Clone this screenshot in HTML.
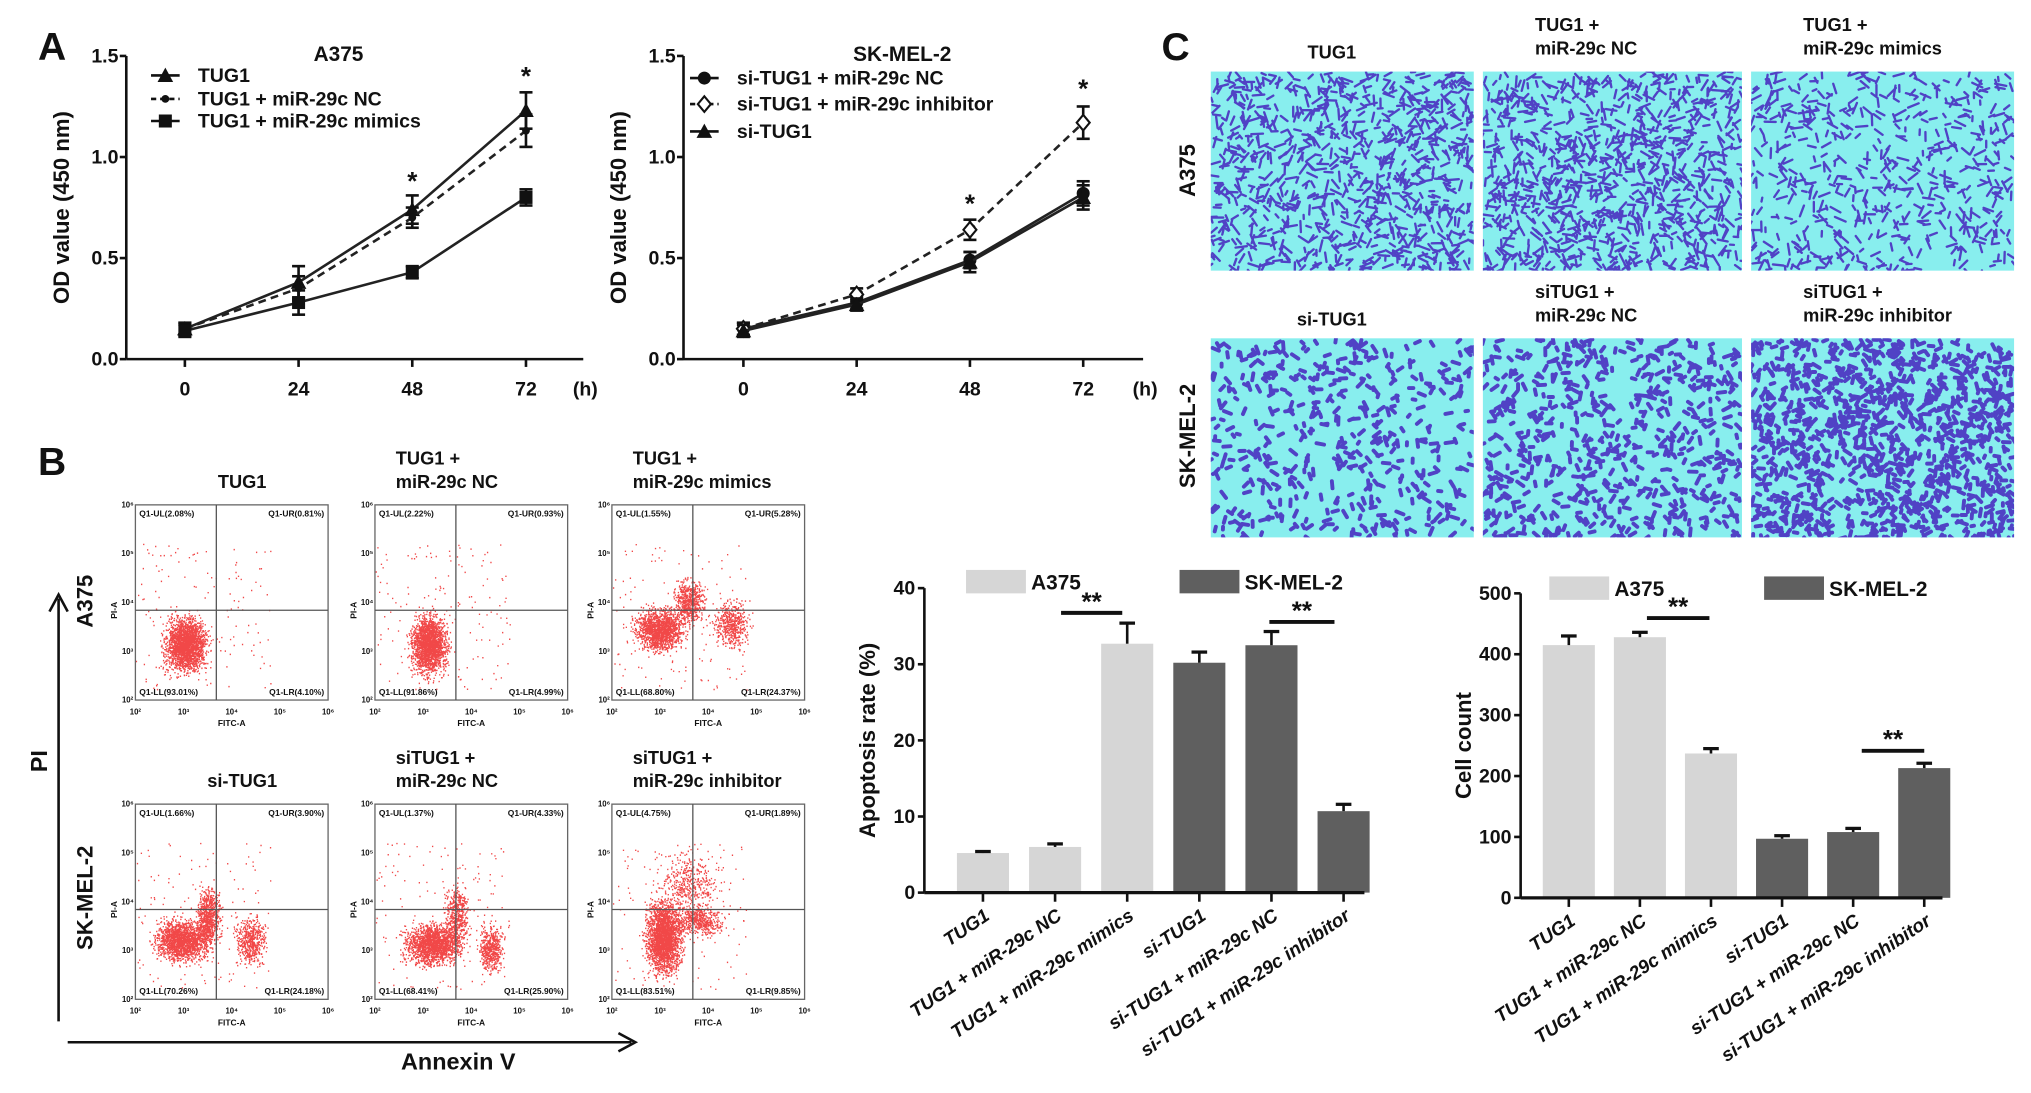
<!DOCTYPE html>
<html><head><meta charset="utf-8"><style>
html,body{margin:0;padding:0;background:#fff}
svg{display:block}
text{font-family:"Liberation Sans",Arial,sans-serif;font-weight:bold;fill:#111}
</style></head><body>
<svg id="fig" width="2031" height="1093" viewBox="0 0 1560 840" preserveAspectRatio="none" xmlns="http://www.w3.org/2000/svg">
<rect width="1560" height="840" fill="#fff"/>
<g id="root"></g>
</svg>
<script>
// ---------- Data ----------
const timeLabels = ["0","24","48","72"];
const timeVals = [0,24,48,72];
const odTicks = [0,0.5,1.0,1.5];
const a375Tug1 = [0.15,0.38,0.74,1.23];
const a375Tug1Err = [0.03,0.08,0.07,0.09];
const a375NC = [0.15,0.35,0.70,1.13];
const a375NCErr = [0.03,0.06,0.05,0.08];
const a375Mimics = [0.14,0.28,0.43,0.80];
const a375MimicsErr = [0.03,0.06,0.03,0.04];
const skNC = [0.15,0.28,0.49,0.82];
const skNCErr = [0.03,0.03,0.04,0.06];
const skInhib = [0.15,0.32,0.64,1.17];
const skInhibErr = [0.03,0.03,0.05,0.08];
const skSi = [0.14,0.27,0.48,0.80];
const skSiErr = [0.03,0.03,0.05,0.06];
const barCats = ["TUG1","TUG1 + miR-29c NC","TUG1 + miR-29c mimics","si-TUG1","si-TUG1 + miR-29c NC","si-TUG1 + miR-29c inhibitor"];
const barGroup = ["A375","A375","A375","SK","SK","SK"];
const apopVals = [5.2,6.0,32.7,30.2,32.5,10.7];
const apopErr = [0.2,0.4,2.7,1.4,1.8,0.9];
const apopTicks = [0,10,20,30,40];
const cellVals = [415,428,237,97,108,213];
const cellErr = [15,8,8,5,6,8];
const cellTicks = [0,100,200,300,400,500];

const NS="http://www.w3.org/2000/svg";
const root=document.getElementById('root');
function mk(tag,attrs,parent,txt){const e=document.createElementNS(NS,tag);for(const k in attrs)e.setAttribute(k,attrs[k]);if(txt!==undefined)e.textContent=txt;(parent||root).appendChild(e);return e;}
function grp(name,parent){const g=mk('g',{},parent);return g;}

[["A",40,46],["B",40,365],["C",903,46]].forEach(([t,x,y])=>{const e=mk('text',{x:x,y:y,'font-size':30,'text-anchor':'middle'},root,t);});

// ---------- Line charts ----------
function lineChart(o){
  const g=grp(o.name);
  const xs=v=>o.x0+ (v/72)*(o.x72-o.x0);
  const ys=v=>o.yb-(v/1.5)*(o.yb-o.yt);
  mk('line',{x1:o.ax,y1:o.yt,x2:o.ax,y2:o.yb,stroke:'#111','stroke-width':2},g);
  mk('line',{x1:o.ax,y1:o.yb,x2:o.axEnd,y2:o.yb,stroke:'#111','stroke-width':2},g);
  odTicks.forEach(t=>{mk('line',{x1:o.ax-5,y1:ys(t),x2:o.ax,y2:ys(t),stroke:'#111','stroke-width':2},g);
    const e=mk('text',{x:o.ax-6,y:ys(t)+5,'font-size':15,'text-anchor':'end'},g,t.toFixed(1));});
  timeVals.forEach((t,i)=>{mk('line',{x1:xs(t),y1:o.yb,x2:xs(t),y2:o.yb+6,stroke:'#111','stroke-width':2},g);
    const e=mk('text',{x:xs(t),y:o.yb+28,'font-size':15,'text-anchor':'middle'},g,timeLabels[i]);});
  let e=mk('text',{x:o.axEnd-8,y:o.yb+28,'font-size':15},g,'(h)');
  e=mk('text',{x:o.titleX,y:47,'font-size':16,'text-anchor':'middle'},g,o.title);
  e=mk('text',{x:0,y:0,'font-size':17,'text-anchor':'middle',transform:`translate(${o.ax-44},${(o.yt+o.yb)/2}) rotate(-90)`,fill:'#222'},g,'OD value (450 nm)');
  o.series.forEach((s,si)=>{
    const sg=grp('series-'+s.key,g);
    const pts=s.vals.map((v,i)=>xs(timeVals[i])+','+ys(v)).join(' ');
    mk('polyline',{points:pts,fill:'none',stroke:'#222','stroke-width':2,'stroke-dasharray':s.dash?'6,4':'none'},sg);
    s.vals.forEach((v,i)=>{const x=xs(timeVals[i]);
      mk('line',{x1:x,y1:ys(v-s.err[i]),x2:x,y2:ys(v+s.err[i]),stroke:'#111','stroke-width':2},sg);
      [v-s.err[i],v+s.err[i]].forEach(w=>mk('line',{x1:x-5,y1:ys(w),x2:x+5,y2:ys(w),stroke:'#111','stroke-width':2},sg));
      marker(s.m,x,ys(v),sg);});
    const ly=o.legY[si];
    mk('line',{x1:o.legX,y1:ly,x2:o.legX+22,y2:ly,stroke:'#111','stroke-width':2,'stroke-dasharray':s.dash?'4,3':'none'},g);
    marker(s.m,o.legX+11,ly,g);
    e=mk('text',{x:o.legX+36,y:ly+5,'font-size':15},g,s.label);
  });
  o.stars.forEach(([t,v])=>{e=mk('text',{x:xs(t),y:ys(v)+10,'font-size':20,'text-anchor':'middle'},g,'*');});
}
function marker(m,x,y,p){
  if(m==='tri')mk('polygon',{points:`${x},${y-6} ${x-6},${y+5} ${x+6},${y+5}`,fill:'#111'},p);
  else if(m==='sq')mk('rect',{x:x-5,y:y-5,width:10,height:10,fill:'#111'},p);
  else if(m==='dot')mk('circle',{cx:x,cy:y,r:3,fill:'#111'},p);
  else if(m==='circ')mk('circle',{cx:x,cy:y,r:5,fill:'#111'},p);
  else if(m==='dia')mk('polygon',{points:`${x},${y-6} ${x+5},${y} ${x},${y+6} ${x-5},${y}`,fill:'#fff',stroke:'#111','stroke-width':1.6},p);
}
lineChart({name:'a375-growth-chart',ax:97,axEnd:448,yt:43,yb:276,x0:142,x72:404,titleX:260,title:'A375',legX:116,legY:[58,76,93],
  series:[{key:'tug1',label:'TUG1',vals:a375Tug1,err:a375Tug1Err,m:'tri'},{key:'nc',label:'TUG1 + miR-29c NC',vals:a375NC,err:a375NCErr,m:'dot',dash:true},{key:'mimics',label:'TUG1 + miR-29c mimics',vals:a375Mimics,err:a375MimicsErr,m:'sq'}],
  stars:[[48,0.9],[72,1.42]]});
lineChart({name:'skmel2-growth-chart',ax:525,axEnd:878,yt:43,yb:276,x0:571,x72:832,titleX:693,title:'SK-MEL-2',legX:530,legY:[60,80,101],
  series:[{key:'nc',label:'si-TUG1 + miR-29c NC',vals:skNC,err:skNCErr,m:'circ'},{key:'inhib',label:'si-TUG1 + miR-29c inhibitor',vals:skInhib,err:skInhibErr,m:'dia',dash:true},{key:'si',label:'si-TUG1',vals:skSi,err:skSiErr,m:'tri'}],
  stars:[[48,0.79],[72,1.36]]});

// ---------- Bar charts ----------
function barChart(o){
  const g=grp(o.name);
  const ys=v=>o.yb-(v/o.max)*(o.yb-o.yt);
  mk('line',{x1:o.ax,y1:o.yt,x2:o.ax,y2:o.yb,stroke:'#111','stroke-width':2},g);
  o.ticks.forEach(t=>{mk('line',{x1:o.ax-5,y1:ys(t),x2:o.ax,y2:ys(t),stroke:'#111','stroke-width':2},g);
    const e=mk('text',{x:o.ax-7,y:ys(t)+5,'font-size':15,'text-anchor':'end'},g,String(t));});
  const bw=40;
  o.vals.forEach((v,i)=>{const cx=o.c0+i*o.step;const col=barGroup[i]==='A375'?'#d6d6d6':'#5f5f5f';
    const b=mk('rect',{x:cx-bw/2,y:ys(v),width:bw,height:o.yb-ys(v),fill:col},g);
    mk('line',{x1:cx,y1:ys(v),x2:cx,y2:ys(v+o.err[i]),stroke:'#111','stroke-width':2},g);
    mk('line',{x1:cx-6,y1:ys(v+o.err[i]),x2:cx+6,y2:ys(v+o.err[i]),stroke:'#111','stroke-width':2.5},g);
    mk('line',{x1:cx,y1:o.yb,x2:cx,y2:o.yb+7,stroke:'#111','stroke-width':2},g);
    const e=mk('text',{x:0,y:0,'font-size':14.5,'font-style':'italic','text-anchor':'end',transform:`translate(${cx+6},${o.yb+20}) rotate(-34)`},g,barCats[i]);
  });
  mk('line',{x1:o.ax,y1:o.yb,x2:o.axEnd,y2:o.yb,stroke:'#111','stroke-width':2.5},g);
  let e=mk('text',{x:0,y:0,'font-size':17,'text-anchor':'middle',transform:`translate(${o.ax-38},${(o.yt+o.yb)/2}) rotate(-90)`,fill:'#222'},g,o.ytitle);
  mk('rect',{x:o.leg[0],y:o.legY,width:46,height:18,fill:'#d6d6d6'},g);
  e=mk('text',{x:o.leg[0]+50,y:o.legY+15,'font-size':16},g,'A375');
  mk('rect',{x:o.leg[1],y:o.legY,width:46,height:18,fill:'#5f5f5f'},g);
  e=mk('text',{x:o.leg[1]+50,y:o.legY+15,'font-size':16},g,'SK-MEL-2');
  o.sig.forEach(([a,b,y])=>{mk('line',{x1:a,y1:y,x2:b,y2:y,stroke:'#111','stroke-width':3},g);
    e=mk('text',{x:(a+b)/2,y:y-2,'font-size':20,'text-anchor':'middle'},g,'**');});
}
barChart({name:'apoptosis-bar-chart',ax:710,axEnd:1048,yt:452,yb:686,max:40,ticks:apopTicks,vals:apopVals,err:apopErr,c0:755,step:55.4,ytitle:'Apoptosis rate (%)',leg:[742,906],legY:438,sig:[[815,862,471],[975,1025,478]]});
barChart({name:'cell-count-bar-chart',ax:1168,axEnd:1492,yt:456,yb:690,max:500,ticks:cellTicks,vals:cellVals,err:cellErr,c0:1205,step:54.6,ytitle:'Cell count',leg:[1190,1355],legY:443,sig:[[1265,1313,475],[1430,1478,577]]});

// ---------- Panel C: migration images ----------
let seed=7;function rnd(){seed=(seed*16807)%2147483647;return seed/2147483647;}
const cImgX=[930,1139,1345],cImgW=[202,199,202];
const cRowY=[55,260],cH=153;
const cDens=[[900,950,550],[450,600,1100]];
const cLabels=[[["TUG1"],["TUG1 +","miR-29c NC"],["TUG1 +","miR-29c mimics"]],[["si-TUG1"],["siTUG1 +","miR-29c NC"],["siTUG1 +","miR-29c inhibitor"]]];
const pc=grp('panel-c');
for(let r=0;r<2;r++)for(let c=0;c<3;c++){
  const gi=grp('migration-image-r'+(r+1)+'c'+(c+1),pc);
  const x=cImgX[c],y=cRowY[r],w=cImgW[c];
  mk('rect',{x:x,y:y,width:w,height:cH,fill:'#88eeee'},gi);
  const cp=mk('clipPath',{id:'cp'+r+c},gi);mk('rect',{x:x,y:y,width:w,height:cH},cp);
  let d='';const n=cDens[r][c];const L=r===0?6:4;
  for(let k=0;k<n;k++){const px=x+rnd()*w,py=y+rnd()*cH,a=rnd()*Math.PI;const l=L*(0.5+rnd());
    d+=`M${px.toFixed(1)} ${py.toFixed(1)}l${(Math.cos(a)*l).toFixed(1)} ${(Math.sin(a)*l).toFixed(1)}`;}
  mk('path',{d:d,stroke:'#4a2fc0','stroke-width':r===0?1.8:3,'stroke-linecap':'round',fill:'none',opacity:0.9,'clip-path':`url(#cp${r}${c})`},gi);
  const lab=cLabels[r][c];const cx=x+w/2-8;
  lab.forEach((t,i)=>{const yy=lab.length===1?y-10:y-31+i*18;const e=mk('text',{x:lab.length>1?x+40:cx,y:yy,'font-size':14,'text-anchor':lab.length>1?'start':'middle'},pc,t);});
}
[["A375",131],["SK-MEL-2",335]].forEach(([t,cy])=>{const e=mk('text',{x:0,y:0,'font-size':17,'text-anchor':'middle',transform:`translate(918,${cy}) rotate(-90)`},pc,t);});

// ---------- Panel B: flow plots ----------
const pb=grp('panel-b');
const fX=[104,288,470],fW=148,fY=[388,618],fH=150;
const fLabels=[[["TUG1"],["TUG1 +","miR-29c NC"],["TUG1 +","miR-29c mimics"]],[["si-TUG1"],["siTUG1 +","miR-29c NC"],["siTUG1 +","miR-29c inhibitor"]]];
const fQuad=[[["2.08","0.81","93.01","4.10"],["2.22","0.93","91.86","4.99"],["1.55","5.28","68.80","24.37"]],[["1.66","3.90","70.26","24.18"],["1.37","4.33","68.41","25.90"],["4.75","1.89","83.51","9.85"]]];
const clusters=[[[[0.26,0.72,0.07,0.09,2200]],[[0.28,0.72,0.06,0.1,2000]],[[0.25,0.64,0.08,0.07,1500],[0.4,0.5,0.05,0.07,600],[0.62,0.62,0.06,0.08,500]]],
  [[[0.24,0.7,0.09,0.07,1700],[0.38,0.58,0.04,0.1,700],[0.6,0.7,0.05,0.08,500]],[[0.3,0.72,0.09,0.07,1700],[0.42,0.58,0.04,0.1,500],[0.6,0.75,0.04,0.08,500]],[[0.27,0.68,0.06,0.12,2400],[0.45,0.6,0.08,0.05,500],[0.4,0.4,0.1,0.1,400]]]];
function gauss(){return (rnd()+rnd()+rnd()-1.5)*1.4;}
for(let r=0;r<2;r++)for(let c=0;c<3;c++){
  const g=grp('flow-plot-r'+(r+1)+'c'+(c+1),pb);
  const x=fX[c],y=fY[r];
  let d='';
  clusters[r][c].forEach(([mx,my,sx,sy,n])=>{for(let k=0;k<n;k++){const px=x+(mx+gauss()*sx)*fW,py=y+(my+gauss()*sy)*fH;if(px>x&&px<x+fW&&py>y&&py<y+fH)d+=`M${px.toFixed(1)} ${py.toFixed(1)}h1`;}});
  for(let k=0;k<150;k++){d+=`M${(x+rnd()*fW*0.7).toFixed(1)} ${(y+fH*0.2+rnd()*fH*0.75).toFixed(1)}h1`;}
  mk('path',{d:d,stroke:'#ee1a1a','stroke-width':1.1,fill:'none',opacity:0.8},g);
  mk('rect',{x:x,y:y,width:fW,height:fH,fill:'none',stroke:'#666','stroke-width':1},g);
  mk('line',{x1:x+fW*0.42,y1:y,x2:x+fW*0.42,y2:y+fH,stroke:'#555','stroke-width':1},g);
  mk('line',{x1:x,y1:y+fH*0.54,x2:x+fW,y2:y+fH*0.54,stroke:'#555','stroke-width':1},g);
  const q=fQuad[r][c];
  [[`Q1-UL(${q[0]}%)`,x+3,y+9,'start'],[`Q1-UR(${q[1]}%)`,x+fW-3,y+9,'end'],[`Q1-LL(${q[2]}%)`,x+3,y+fH-4,'start'],[`Q1-LR(${q[3]}%)`,x+fW-3,y+fH-4,'end']].forEach(([t,tx,ty,an])=>{const e=mk('text',{x:tx,y:ty,'font-size':6.5,'font-weight':'normal','text-anchor':an,fill:'#444'},g,t);});
  for(let k=0;k<5;k++){mk('text',{x:x+k*fW/4,y:y+fH+11,'font-size':6,'font-weight':'normal','text-anchor':'middle',fill:'#555'},g,'10'+['²','³','⁴','⁵','⁶'][k]);
    mk('text',{x:x-6,y:y+fH-k*fH/4+2,'font-size':6,'font-weight':'normal','text-anchor':'middle',fill:'#555'},g,'10'+['²','³','⁴','⁵','⁶'][k]);}
  let e=mk('text',{x:x+fW/2,y:y+fH+20,'font-size':6.5,'font-weight':'normal','text-anchor':'middle',fill:'#444'},g,'FITC-A');
  e=mk('text',{x:0,y:0,'font-size':6.5,'font-weight':'normal','text-anchor':'middle',fill:'#444',transform:`translate(${x-14},${y+fH*0.54}) rotate(-90)`},g,'PI-A');
  const lab=fLabels[r][c];
  lab.forEach((t,i)=>{const yy=lab.length===1?y-13:y-31+i*18;e=mk('text',{x:lab.length>1?x+16:x+fW/2+8,y:yy,'font-size':14,'text-anchor':lab.length>1?'start':'middle'},pb,t);});
}
[["A375",462],["SK-MEL-2",690]].forEach(([t,cy])=>{const e=mk('text',{x:0,y:0,'font-size':17,'text-anchor':'middle',transform:`translate(71,${cy}) rotate(-90)`},pb,t);});
mk('line',{x1:45,y1:785,x2:45,y2:460,stroke:'#111','stroke-width':2},pb);
mk('polyline',{points:'38,470 45,457 52,470',fill:'none',stroke:'#111','stroke-width':2},pb);
mk('line',{x1:52,y1:801,x2:485,y2:801,stroke:'#111','stroke-width':2},pb);
mk('polyline',{points:'475,794 488,801 475,808',fill:'none',stroke:'#111','stroke-width':2},pb);
let e1=mk('text',{x:0,y:0,'font-size':18,'text-anchor':'middle',transform:'translate(36,585) rotate(-90)'},pb,'PI');
e1=mk('text',{x:352,y:822,'font-size':18,'text-anchor':'middle'},pb,'Annexin V');
</script>
</body></html>
